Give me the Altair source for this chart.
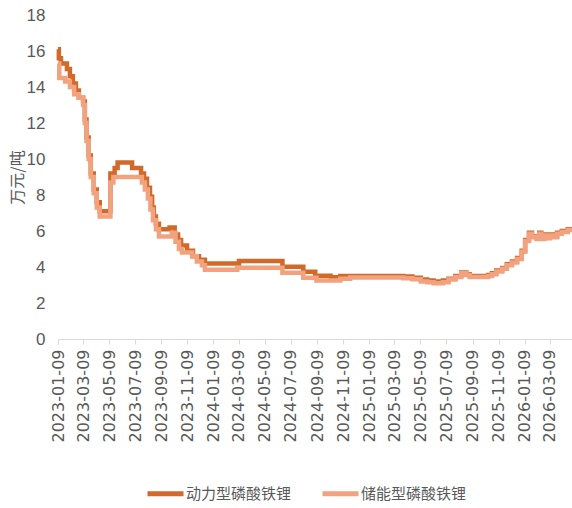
import altair as alt
import pandas as pd

# Weekly price changes for the two LFP grades (unit: 10k CNY per tonne)
power_dates = [
    "2023-01-09", "2023-01-11", "2023-01-16", "2023-01-30", "2023-02-06", "2023-02-13",
    "2023-02-20", "2023-02-27", "2023-03-09", "2023-03-13", "2023-03-17", "2023-03-22",
    "2023-03-27", "2023-04-03", "2023-04-10", "2023-04-17", "2023-05-12", "2023-05-22",
    "2023-05-29", "2023-07-02", "2023-07-23", "2023-07-30", "2023-08-06", "2023-08-13",
    "2023-08-18", "2023-08-22", "2023-08-27", "2023-09-03", "2023-09-28", "2023-10-10",
    "2023-10-18", "2023-10-25", "2023-11-08", "2023-11-22", "2023-12-06", "2023-12-20",
    "2024-03-09", "2024-06-19", "2024-08-07", "2024-09-04", "2024-10-10", "2024-11-02",
    "2025-03-30", "2025-04-20", "2025-05-10", "2025-05-25", "2025-06-09", "2025-07-01",
    "2025-07-14", "2025-07-30", "2025-08-13", "2025-08-25", "2025-09-02", "2025-10-15",
    "2025-10-24", "2025-11-03", "2025-11-17", "2025-11-28", "2025-12-10", "2025-12-22",
    "2026-01-02", "2026-01-10", "2026-01-19", "2026-01-26", "2026-02-06", "2026-02-12",
    "2026-02-17", "2026-02-24", "2026-03-02", "2026-03-09", "2026-03-19", "2026-03-26",
    "2026-04-06", "2026-04-20", "2026-04-30",
]
power_values = [
    16.1, 15.6, 15.3, 15.0, 14.6, 14.2,
    13.8, 13.4, 13.2, 12.2, 11.2, 10.2,
    9.2, 8.3, 7.6, 7.1, 9.2, 9.5,
    9.8, 9.5, 9.2, 8.9, 8.4, 7.9,
    7.3, 6.8, 6.4, 6.1, 6.2, 5.8,
    5.5, 5.2, 4.9, 4.6, 4.4, 4.2,
    4.33, 4.02, 3.74, 3.52, 3.43, 3.5,
    3.47, 3.4, 3.3, 3.25, 3.2, 3.25,
    3.35, 3.5, 3.7, 3.6, 3.5, 3.55,
    3.65, 3.8, 3.95, 4.15, 4.3, 4.5,
    4.9, 5.5, 5.9, 5.7, 5.6, 5.9,
    5.6, 5.8, 5.65, 5.8, 5.7, 5.9,
    6.0, 6.1, 6.1,
]

storage_dates = [
    "2023-01-09", "2023-01-12", "2023-01-26", "2023-02-06", "2023-02-16", "2023-02-27",
    "2023-03-09", "2023-03-13", "2023-03-17", "2023-03-22", "2023-03-27", "2023-04-03",
    "2023-04-10", "2023-04-17", "2023-05-12", "2023-05-19", "2023-07-25", "2023-08-01",
    "2023-08-08", "2023-08-14", "2023-08-20", "2023-08-27", "2023-09-03", "2023-10-03",
    "2023-10-12", "2023-10-20", "2023-10-27", "2023-11-20", "2023-12-01", "2023-12-13",
    "2023-12-20", "2024-03-05", "2024-06-19", "2024-08-07", "2024-09-07", "2024-11-02",
    "2024-11-25", "2025-03-30", "2025-04-20", "2025-05-10", "2025-05-25", "2025-06-09",
    "2025-07-01", "2025-07-14", "2025-07-30", "2025-08-13", "2025-08-25", "2025-09-02",
    "2025-10-15", "2025-10-24", "2025-11-03", "2025-11-17", "2025-11-28", "2025-12-10",
    "2025-12-22", "2026-01-02", "2026-01-10", "2026-01-19", "2026-01-26", "2026-02-06",
    "2026-02-12", "2026-02-17", "2026-02-24", "2026-03-02", "2026-03-09", "2026-03-19",
    "2026-03-26", "2026-04-06", "2026-04-20", "2026-04-30",
]
storage_values = [
    15.3, 14.5, 14.3, 14.0, 13.6, 13.4,
    13.0, 12.0, 11.0, 10.0, 9.0, 8.1,
    7.3, 6.8, 8.7, 9.0, 8.7, 8.3,
    7.8, 7.2, 6.6, 6.1, 5.7, 5.9,
    5.4, 5.0, 4.8, 4.6, 4.3, 4.1,
    3.85, 3.96, 3.68, 3.4, 3.25, 3.35,
    3.42, 3.38, 3.32, 3.2, 3.15, 3.1,
    3.15, 3.3, 3.45, 3.65, 3.55, 3.45,
    3.5, 3.6, 3.75, 3.9, 4.1, 4.25,
    4.45, 4.85, 5.45, 5.85, 5.65, 5.55,
    5.85, 5.55, 5.75, 5.6, 5.75, 5.65,
    5.85, 5.95, 6.05, 6.05,
]

series_names = ["动力型磷酸铁锂", "储能型磷酸铁锂"]
series_colors = ["#D0692A", "#F2A27E"]

# Tick marks every two months on the 9th
tick_months = [(y, m) for y in range(2023, 2027) for m in (1, 3, 5, 7, 9, 11)]
tick_months = [(y, m) for (y, m) in tick_months if (y, m) <= (2026, 3)]
tick_values = [alt.DateTime(year=y, month=m, date=9) for (y, m) in tick_months]

df = pd.concat([
    pd.DataFrame({"date": pd.to_datetime(power_dates), "price": power_values,
                  "series": series_names[0]}),
    pd.DataFrame({"date": pd.to_datetime(storage_dates), "price": storage_values,
                  "series": series_names[1]}),
], ignore_index=True)

axis_grey = "#595959"

base = alt.Chart(df).encode(
    x=alt.X(
        "date:T",
        scale=alt.Scale(domain=[alt.DateTime(year=2023, month=1, date=9),
                                alt.DateTime(year=2026, month=4, date=30)]),
        axis=alt.Axis(
            values=tick_values, format="%Y-%m-%d", labelAngle=270,
            labelFont="DejaVu Sans", labelFontSize=16, labelColor=axis_grey,
            labelPadding=5, labelOverlap=False,
            domainColor="#D9D9D9", tickColor="#D9D9D9", tickSize=5,
            grid=False, title=None,
        ),
    ),
    y=alt.Y(
        "price:Q",
        scale=alt.Scale(domain=[0, 18]),
        axis=alt.Axis(
            values=list(range(0, 19, 2)), domain=False, ticks=False, grid=False,
            labelFont="Liberation Sans Narrow, Liberation Sans, sans-serif",
            labelFontSize=17, labelColor=axis_grey, labelPadding=13,
            title="万元/吨", titleFont="Noto Sans CJK SC", titleFontSize=16,
            titleFontWeight="normal", titleColor=axis_grey,
            titleX=-33, titleBaseline="bottom",
        ),
    ),
    color=alt.Color(
        "series:N",
        scale=alt.Scale(domain=series_names, range=series_colors),
        legend=alt.Legend(
            orient="none", legendX=87, legendY=458, direction="horizontal",
            title=None, symbolType="stroke", symbolStrokeWidth=5, symbolSize=1296,
            labelFont="Noto Sans CJK SC", labelFontSize=15, labelColor=axis_grey,
            labelOffset=0, columnPadding=20, padding=0,
        ),
    ),
)

power_line = base.transform_filter(
    alt.datum.series == series_names[0]
).mark_line(interpolate="step-after", strokeWidth=4.5)

storage_line = base.transform_filter(
    alt.datum.series == series_names[1]
).mark_line(interpolate="step-after", strokeWidth=4.5)

chart = alt.layer(power_line, storage_line).properties(
    width=514, height=324,
    autosize=alt.AutoSizeParams(type="none"),
    padding={"left": 58, "top": 15, "right": 0, "bottom": 169},
).configure_view(stroke=None)

chart.save("out.html", embed_options={"renderer": "svg", "actions": False})
